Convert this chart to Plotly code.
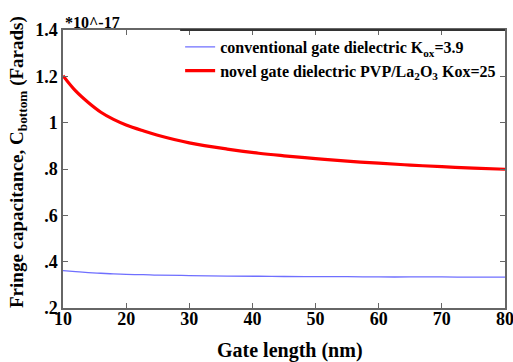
import plotly.graph_objects as go

gate_length = [10, 12, 14, 16, 18, 20, 22.7, 25, 30, 36, 41, 45, 50, 55, 60, 65, 70, 75, 80]
c_novel = [1.203, 1.137, 1.087, 1.045, 1.014, 0.990, 0.965, 0.946, 0.913, 0.886, 0.868, 0.857, 0.845, 0.834, 0.825, 0.817, 0.810, 0.804, 0.799]
c_conv = [0.361, 0.357, 0.353, 0.350, 0.347, 0.345, 0.344, 0.342, 0.340, 0.338, 0.337, 0.336, 0.335, 0.335, 0.334, 0.334, 0.334, 0.333, 0.333]

x_ticks = [10, 20, 30, 40, 50, 60, 70, 80]
y_ticks = [0.2, 0.4, 0.6, 0.8, 1.0, 1.2, 1.4]
y_ticklabels = [".2", ".4", ".6", ".8", "1", "1.2", "1.4"]

FONT = "Liberation Serif, Times New Roman, serif"

fig = go.Figure()
fig.add_trace(go.Scatter(
    x=gate_length, y=c_conv, mode="lines", line=dict(color="#6f6fff", width=1.3, shape="spline"),
    name="<b>conventional gate dielectric K<sub>ox</sub>=3.9</b>"))
fig.add_trace(go.Scatter(
    x=gate_length, y=c_novel, mode="lines", line=dict(color="#ff0000", width=3.2, shape="spline"),
    name="<b>novel gate dielectric PVP/La<sub>2</sub>O<sub>3</sub> Kox=25</b>"))

axis_common = dict(
    showline=True, linecolor="#666666", linewidth=1.5, mirror="ticks", automargin=False,
    ticks="inside", ticklen=5, tickcolor="#666666", showgrid=False, zeroline=False,
    ticklabeloverflow="allow",
    tickfont=dict(family=FONT, size=18, color="black"),
)

fig.update_layout(
    width=513, height=362,
    margin=dict(l=63, r=8, t=30, b=54),
    paper_bgcolor="white", plot_bgcolor="white",
    font=dict(family=FONT, color="black"),
    showlegend=True,
    legend=dict(x=0.265, y=1.0, xanchor="left", yanchor="top", bgcolor="rgba(255,255,255,0)",
                font=dict(family=FONT, size=16, color="black"), tracegroupgap=0, itemwidth=30),
    xaxis=dict(range=[10, 80], tickvals=x_ticks, ticktext=[f"<b>{v}</b>" for v in x_ticks],
               ticklabelstandoff=-6, **axis_common),
    yaxis=dict(range=[0.2, 1.4], tickvals=y_ticks, ticktext=[f"<b>{t}</b>" for t in y_ticklabels],
               **axis_common),
    shapes=[dict(type="line", xref="paper", yref="paper", x0=0.265, x1=1.0, y0=1.0, y1=1.0,
                 line=dict(color="#333333", width=2))],
    annotations=[
        dict(text="<b>*10^-17</b>", xref="paper", yref="paper", x=0, y=1.0,
             xanchor="left", yanchor="bottom", yshift=-3, showarrow=False,
             font=dict(family=FONT, size=16, color="black")),
        dict(text="<b>Gate length (nm)</b>", xref="paper", yref="paper", x=0.514, y=0,
             xanchor="center", yanchor="middle", yshift=-42, showarrow=False,
             font=dict(family=FONT, size=20, color="black")),
        dict(text="<b>Fringe capacitance, C<sub>bottom</sub> (Farads)</b>", xref="paper", yref="paper",
             x=0, y=0.5, xanchor="center", yanchor="middle", xshift=-45, yshift=7, textangle=-90,
             showarrow=False, font=dict(family=FONT, size=19, color="black")),
    ],
)

fig.write_html("out.html", config={"displayModeBar": False},
               post_script="document.body.style.margin='0';document.body.style.overflow='hidden';")
